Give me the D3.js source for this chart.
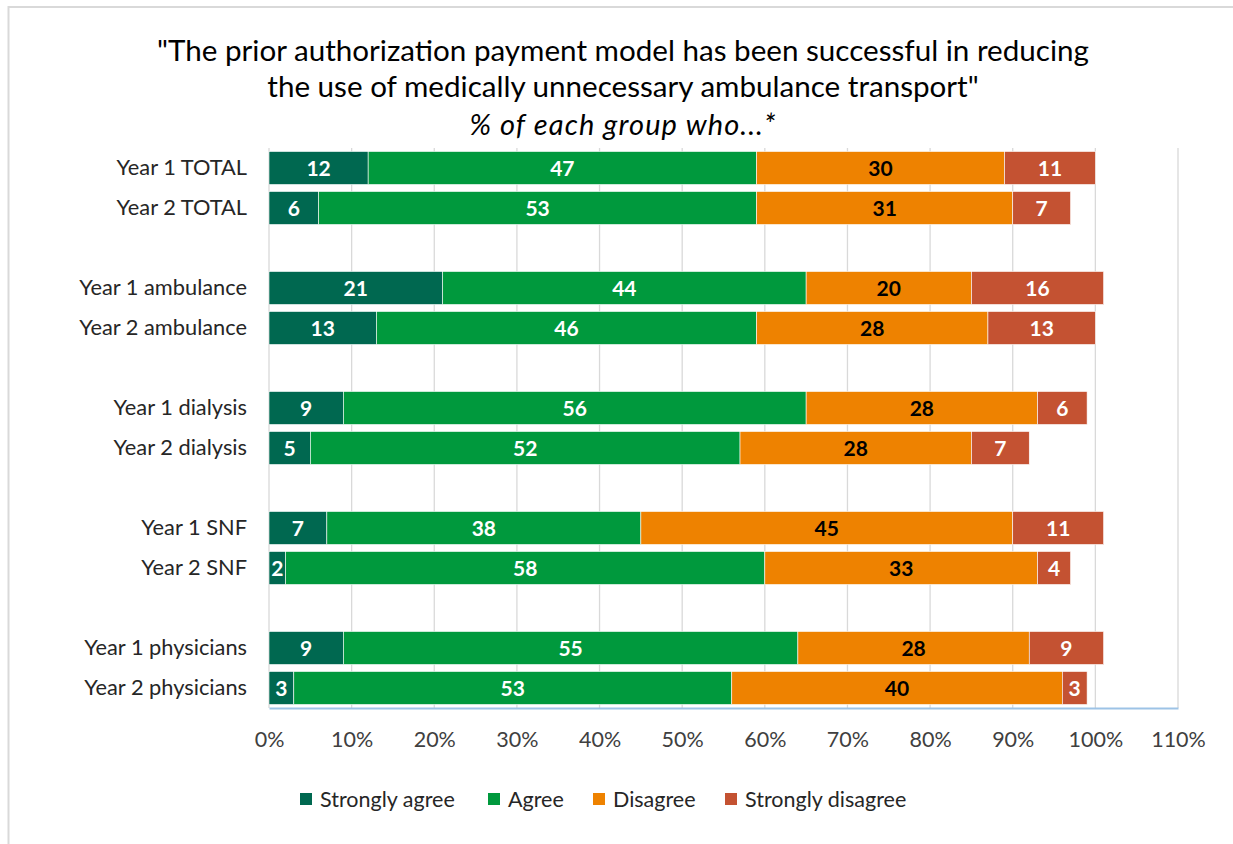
<!DOCTYPE html>
<html>
<head>
<meta charset="utf-8">
<script src="https://cdn.jsdelivr.net/npm/d3@7"></script>
<style>
  html, body { margin: 0; padding: 0; background: #fff; }
  svg { display: block; font-family: Lato, "Open Sans", "DejaVu Sans", sans-serif; }
</style>
</head>
<body>
<svg id="chart" width="1233" height="844"></svg>
<script>
// Survey rows (top to bottom); blank entries are spacer rows between groups
const rows = [
  "Year 1 TOTAL", "Year 2 TOTAL", "",
  "Year 1 ambulance", "Year 2 ambulance", " ",
  "Year 1 dialysis", "Year 2 dialysis", "  ",
  "Year 1 SNF", "Year 2 SNF", "   ",
  "Year 1 physicians", "Year 2 physicians"
];
const categories = ["Year 1 TOTAL", "Year 2 TOTAL", "Year 1 ambulance", "Year 2 ambulance",
  "Year 1 dialysis", "Year 2 dialysis", "Year 1 SNF", "Year 2 SNF",
  "Year 1 physicians", "Year 2 physicians"];
const seriesNames = ["Strongly agree", "Agree", "Disagree", "Strongly disagree"];
const stronglyAgree    = [12, 6, 21, 13, 9, 5, 7, 2, 9, 3];
const agree            = [47, 53, 44, 46, 56, 52, 38, 58, 55, 53];
const disagree         = [30, 31, 20, 28, 28, 28, 45, 33, 28, 40];
const stronglyDisagree = [11, 7, 16, 13, 6, 7, 11, 4, 9, 3];
const xTicks = [0, 10, 20, 30, 40, 50, 60, 70, 80, 90, 100, 110];
const titleLines = [
  "\"The prior authorization payment model has been successful in reducing",
  "the use of medically unnecessary ambulance transport\""
];
const subtitle = "% of each group who...*";

const colors = ["#006850", "#00993d", "#ee8200", "#c45232"];
const labelColors = ["#fff", "#fff", "#000", "#fff"];

const table = categories.map((c, i) => ({
  name: c,
  "Strongly agree": stronglyAgree[i],
  "Agree": agree[i],
  "Disagree": disagree[i],
  "Strongly disagree": stronglyDisagree[i]
}));

const svg = d3.select("#chart");

// frame
svg.append("line").attr("x1", 8).attr("x2", 1233).attr("y1", 7).attr("y2", 7)
  .attr("stroke", "#d9d9d9").attr("stroke-width", 2);
svg.append("line").attr("x1", 8.5).attr("x2", 8.5).attr("y1", 6).attr("y2", 844)
  .attr("stroke", "#d9d9d9").attr("stroke-width", 2);

const plot = { left: 269, right: 1178, top: 148, bottom: 708 };

const x = d3.scaleLinear().domain([0, 110]).range([plot.left, plot.right]);
const y = d3.scaleBand().domain(rows).range([plot.top, plot.bottom]).paddingInner(0.175).paddingOuter(0.0875);

// title
const title = svg.append("g").attr("fill", "#000").attr("text-anchor", "middle");
title.selectAll("text.t").data(titleLines).join("text")
  .attr("class", "t")
  .attr("x", 623).attr("y", (d, i) => 61 + i * 36)
  .attr("font-size", 29.6)
  .text(d => d);
title.append("text").attr("x", 623).attr("y", 135)
  .attr("font-size", 29).attr("font-style", "italic").attr("letter-spacing", 1.1).text(subtitle);

// gridlines
svg.append("g").selectAll("line").data(xTicks).join("line")
  .attr("x1", d => x(d)).attr("x2", d => x(d))
  .attr("y1", plot.top).attr("y2", plot.bottom)
  .attr("stroke", "#d9d9d9").attr("stroke-width", 1.3);

// x axis
const xAxis = svg.append("g").attr("transform", `translate(0,${plot.bottom})`)
  .call(d3.axisBottom(x).tickValues(xTicks).tickSize(0).tickPadding(24).tickFormat(d => d + "%"));
xAxis.select(".domain").attr("stroke", "#9dc3e6").attr("stroke-width", 2);
xAxis.selectAll("text").attr("font-size", 21.5).attr("fill", "#404040")
  .attr("font-family", "Lato, 'Open Sans', sans-serif");

// y axis labels
const yAxis = svg.append("g").attr("transform", `translate(${plot.left},0)`)
  .call(d3.axisLeft(y).tickSize(0).tickPadding(22));
yAxis.select(".domain").remove();
yAxis.selectAll("text").attr("font-size", 21.8).attr("fill", "#262626")
  .attr("font-family", "Lato, 'Open Sans', sans-serif");

// stacked bars
const stack = d3.stack().keys(seriesNames)(table);
const layers = svg.append("g").selectAll("g").data(stack).join("g")
  .attr("fill", (d, i) => colors[i]);

layers.selectAll("rect").data(d => d).join("rect")
  .attr("x", d => x(d[0]))
  .attr("y", d => y(d.data.name))
  .attr("width", d => x(d[1]) - x(d[0]))
  .attr("height", y.bandwidth())
  .attr("stroke", "#fff").attr("stroke-width", 0.6);

layers.each(function (layer, i) {
  d3.select(this).selectAll("text").data(layer).join("text")
    .attr("x", d => (x(d[0]) + x(d[1])) / 2)
    .attr("y", d => y(d.data.name) + y.bandwidth() / 2)
    .attr("dy", "0.36em")
    .attr("text-anchor", "middle")
    .attr("font-size", 21).attr("font-weight", "bold")
    .attr("fill", labelColors[i])
    .text(d => d[1] - d[0]);
});

// legend
const legendX = [300, 488, 593, 725];
const legend = svg.append("g").selectAll("g").data(seriesNames).join("g")
  .attr("transform", (d, i) => `translate(${legendX[i]},799)`);
legend.append("rect").attr("x", 0).attr("y", -6).attr("width", 12).attr("height", 12)
  .attr("fill", (d, i) => colors[i]);
legend.append("text").attr("x", 20).attr("y", 0).attr("dy", "0.35em")
  .attr("font-size", 21.5).attr("fill", "#262626").text(d => d);
</script>
</body>
</html>
